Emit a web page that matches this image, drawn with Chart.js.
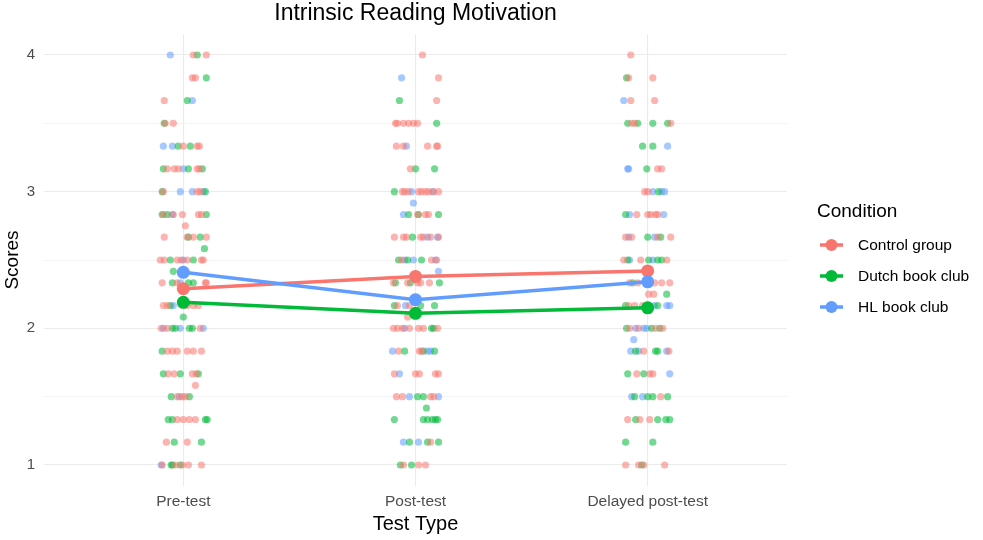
<!DOCTYPE html>
<html>
<head>
<meta charset="utf-8">
<script src="https://cdn.jsdelivr.net/npm/chart.js@4.4.1/dist/chart.umd.min.js"></script>
<style>
  html, body { margin: 0; padding: 0; background: #ffffff; }
  #wrap { width: 983px; height: 540px; }
</style>
</head>
<body>
<div id="wrap"><canvas id="chart" width="983" height="540"></canvas></div>
<script>
// Test occasions on the x axis
const testTypes = ['Pre-test', 'Post-test', 'Delayed post-test'];
const conditions = ['Control group', 'Dutch book club', 'HL book club'];
const conditionColors = ['#F8766D', '#00BA38', '#619CFF'];
const yTickValues = [1, 1.5, 2, 2.5, 3, 3.5, 4];

// Group means per test occasion
const controlMeans = [2.29, 2.38, 2.42];
const dutchMeans = [2.19, 2.11, 2.15];
const hlMeans = [2.41, 2.21, 2.34];

// Individual scores: [score, [horizontal jitter of each student with that score]]
const controlPre = [
  [4, [.043, .099]], [3.833, [.039, .052]], [3.667, [-.082]], [3.5, [-.078, -.043]],
  [3.333, [0, .060, .069]], [3.167, [-.069, -.039, -.022, .060, .069]], [3, [-.086, .060, .073]],
  [2.833, [-.086, -.043, -.004, .065, .078]], [2.75, [.009]], [2.667, [-.082, .017, .043, .099]],
  [2.5, [-.099, -.082, -.026, -.009, .017, .078, .086]], [2.333, [-.091, -.026, .095, .099]],
  [2.167, [-.086, -.069, .017, .043, .065]], [2, [-.095, -.069, .073]],
  [1.833, [-.069, -.047, -.026, .017, .043, .078]], [1.667, [-.065, -.039, .039, .056]],
  [1.583, [.052]], [1.5, [-.026, -.004, .009]], [1.333, [-.026, 0, .026, .052]],
  [1.167, [-.073, .017]], [1, [-.091, -.034, -.004, .022, .078]]
];
const dutchPre = [
  [4, [.060]], [3.833, [.099]], [3.667, [.017]], [3.5, [-.082]], [3.333, [-.022, .030]],
  [3.167, [-.086, .022, .082]], [3, [-.091, .095]], [2.833, [-.091, -.069, .099]],
  [2.667, [.022, .073]], [2.583, [.091]], [2.5, [-.056, .043]], [2.417, [-.043]],
  [2.333, [-.047, .022, .043]], [2.167, [-.056]], [2.083, [0]], [2, [-.047, -.034, .026, .039]],
  [1.833, [-.091]], [1.667, [-.086, -.013, .065]], [1.5, [-.052, .026]],
  [1.333, [-.065, -.047, .095, .103]], [1.167, [-.039, .078]], [1, [-.052, -.047, -.013]]
];
const hlPre = [
  [4, [-.056]], [3.667, [.039]], [3.333, [-.086, -.047]], [3.167, [0]], [3, [-.013, .039, .086]],
  [2.833, [-.047]], [2.5, [0]], [2.333, [-.013]], [2.167, [-.043]], [2, [-.086, -.013, .086]],
  [1.5, [-.017]], [1, [-.095]]
];
const controlPost = [
  [4, [.030]], [3.833, [.099]], [3.667, [.091]], [3.5, [-.086, -.078, -.052, -.030, -.009, .009]],
  [3.333, [-.082, -.052, .052, .091, .095]], [3.167, [-.022]],
  [3, [-.056, -.047, -.030, .013, .026, .043, .056, .078, .099]], [2.833, [.009, .043, .056]],
  [2.667, [-.091, -.052, -.039, .022, .034, .065, .099]], [2.5, [-.060, .069, .091]],
  [2.333, [-.095, -.034, .009, .022, .060]], [2.167, [-.078, -.026]], [2.083, [-.034]],
  [2, [-.095, -.078, -.056, -.026, .013, .034, .095]], [1.833, [-.073, .017, .026]],
  [1.667, [-.091, 0, .017, .086, .099]], [1.5, [-.082, -.056, .065, .078]],
  [1.167, [.065]], [1, [-.052, .013, .043]]
];
const dutchPost = [
  [3.667, [-.069]], [3.5, [.091]], [3.167, [0, .082]], [3, [-.091]], [2.833, [-.030, .013, .099]],
  [2.667, [-.013]], [2.5, [-.073, -.034, .026]], [2.333, [-.086, -.022, .103]],
  [2.167, [-.091, .022, .082]], [2, [.069, .078]], [1.833, [-.047, .034, .082]],
  [1.5, [.009, .034]], [1.417, [.047]], [1.333, [-.091, .034, .052, .073, .086, .095]],
  [1.167, [-.026, .052, .099]], [1, [-.065, -.017]]
];
const hlPost = [
  [3.833, [-.060]], [3.333, [-.039]], [3, [-.017, .073]], [2.917, [-.009]], [2.833, [-.052]],
  [2.667, [.052, .095]], [2.5, [-.047, -.009, .086]], [2.417, [.099]], [2.167, [-.043]],
  [2, [-.047]], [1.833, [-.099, .052, .065]], [1.667, [-.069]], [1.5, [-.026, .099]],
  [1.167, [-.052, .013]]
];
const controlDelayed = [
  [4, [-.073]], [3.833, [-.082, .022]], [3.667, [-.073, .030]], [3.5, [-.069, -.056, .099]],
  [3.167, [.043, .060]], [3, [-.013, 0]], [2.833, [-.047, 0, .013, .034, .043]],
  [2.667, [-.095, -.069, .043, .099]], [2.5, [-.103, -.030, .082]],
  [2.333, [-.078, -.043, .030, .060, .095]], [2.25, [.004, .026]], [2.167, [-.082, -.056, -.022]],
  [2, [-.078, -.039, .034, .065]], [1.833, [-.017, .091]], [1.667, [-.047, .009, .022]],
  [1.5, [.056]], [1.333, [-.086, -.034, .009]], [1, [-.095, -.039, -.017, .073]]
];
const dutchDelayed = [
  [3.833, [-.091]], [3.5, [-.086, -.043, .022, .086]], [3.333, [-.022, .022]], [3.167, [-.004]],
  [3, [.047]], [2.833, [-.095]], [2.667, [0, .056]], [2.5, [-.086, .004, .043, .060]],
  [2.333, [-.065]], [2.25, [.082]], [2.167, [-.095, .043]], [2, [-.091, .017, .052]],
  [1.833, [-.052, .034, .043]], [1.667, [-.086, -.017]], [1.5, [-.056, 0, .022, .086]],
  [1.333, [-.052, .043, .078, .095]], [1.167, [-.095, .022]], [1, [-.026]]
];
const hlDelayed = [
  [3.667, [-.103]], [3.333, [.086]], [3.167, [-.086, -.082]], [3, [.022, .060, .073]],
  [2.833, [-.078, .069]], [2.667, [-.082, .030]], [2.5, [-.078, .022]], [2.167, [.030, .082, .095]],
  [2, [-.052, -.017, -.004]], [1.917, [-.060]], [1.833, [-.073, -.039, .082]], [1.667, [.095]],
  [1.5, [-.069, -.022]]
];

const scoresByCondition = [
  [controlPre, controlPost, controlDelayed],
  [dutchPre, dutchPost, dutchDelayed],
  [hlPre, hlPost, hlDelayed]
];
const meansByCondition = [controlMeans, dutchMeans, hlMeans];

const FONT = '"Liberation Sans", Arial, sans-serif';

function withAlpha(hex, a) {
  const n = parseInt(hex.slice(1), 16);
  return `rgba(${(n >> 16) & 255}, ${(n >> 8) & 255}, ${n & 255}, ${a})`;
}

// Flatten the per-score groups into scatter points at test position + jitter
function jitterPoints(perTest) {
  const pts = [];
  perTest.forEach((rows, t) => {
    rows.forEach(([score, offsets]) => {
      offsets.forEach(j => pts.push({ x: t + 1 + j, y: score }));
    });
  });
  return pts;
}

const datasets = [];
// mean lines, drawn above the individual points
conditions.forEach((name, i) => {
  datasets.push({
    type: 'line',
    label: name,
    data: meansByCondition[i].map((m, t) => ({ x: t + 1, y: m })),
    borderColor: conditionColors[i],
    backgroundColor: conditionColors[i],
    borderWidth: 3.5,
    pointRadius: 6.5,
    pointHoverRadius: 6.5,
    pointBorderWidth: 0,
    tension: 0,
    fill: false,
    order: 2 - i
  });
});
// individual student scores
conditions.forEach((name, i) => {
  datasets.push({
    type: 'scatter',
    label: name + ' (scores)',
    data: jitterPoints(scoresByCondition[i]),
    backgroundColor: withAlpha(conditionColors[i], 0.55),
    borderWidth: 0,
    pointRadius: 3.6,
    pointHoverRadius: 3.6,
    order: 10
  });
});

// Title and the "Condition" legend with line + dot keys
const decorations = {
  id: 'decorations',
  afterDraw(chart) {
    const { ctx, chartArea } = chart;
    ctx.save();
    ctx.fillStyle = '#000000';
    ctx.textBaseline = 'middle';
    ctx.textAlign = 'center';
    ctx.font = `23px ${FONT}`;
    ctx.fillText('Intrinsic Reading Motivation', (chartArea.left + chartArea.right) / 2, 14);

    ctx.textAlign = 'left';
    ctx.font = `19px ${FONT}`;
    ctx.fillText('Condition', 817, 212);

    const rowY = [245, 276, 307];
    conditions.forEach((name, i) => {
      const y = rowY[i];
      ctx.strokeStyle = conditionColors[i];
      ctx.lineWidth = 3.5;
      ctx.beginPath();
      ctx.moveTo(820, y);
      ctx.lineTo(843, y);
      ctx.stroke();
      ctx.fillStyle = conditionColors[i];
      ctx.beginPath();
      ctx.arc(831.5, y, 6, 0, Math.PI * 2);
      ctx.fill();
      ctx.fillStyle = '#000000';
      ctx.font = `15.5px ${FONT}`;
      ctx.fillText(name, 858, y + 1);
    });
    ctx.restore();
  }
};

new Chart(document.getElementById('chart'), {
  type: 'scatter',
  data: { datasets },
  options: {
    responsive: false,
    animation: false,
    events: [],
    layout: { padding: { top: 34.5, right: 196, bottom: 0, left: 0 } },
    plugins: {
      legend: { display: false },
      title: { display: false },
      tooltip: { enabled: false }
    },
    scales: {
      x: {
        type: 'linear',
        min: 0.4,
        max: 3.6,
        afterBuildTicks(scale) { scale.ticks = testTypes.map((_, i) => ({ value: i + 1 })); },
        afterFit(scale) { scale.height = 54.5; },
        ticks: {
          callback: (v) => testTypes[Math.round(v) - 1],
          color: '#4D4D4D',
          font: { family: FONT, size: 15.5 },
          padding: 7,
          maxRotation: 0,
          autoSkip: false
        },
        grid: { color: '#EBEBEB', lineWidth: 1.1, drawTicks: false },
        border: { display: false },
        title: {
          display: true,
          text: 'Test Type',
          color: '#000000',
          font: { family: FONT, size: 20 },
          padding: { top: 0, bottom: 4 }
        }
      },
      y: {
        type: 'linear',
        min: 0.85,
        max: 4.15,
        afterBuildTicks(scale) { scale.ticks = yTickValues.map(v => ({ value: v })); },
        afterFit(scale) { scale.width = 44; },
        ticks: {
          callback: (v) => Number.isInteger(v) ? String(v) : '',
          color: '#4D4D4D',
          font: { family: FONT, size: 15 },
          padding: 9
        },
        grid: {
          color: '#EBEBEB',
          lineWidth: (ctx) => Number.isInteger(ctx.tick && ctx.tick.value) ? 1.1 : 0.6,
          drawTicks: false
        },
        border: { display: false },
        title: {
          display: true,
          text: 'Scores',
          color: '#000000',
          font: { family: FONT, size: 19 },
          padding: { top: 1, bottom: 0 }
        }
      }
    }
  },
  plugins: [decorations]
});
</script>
</body>
</html>
